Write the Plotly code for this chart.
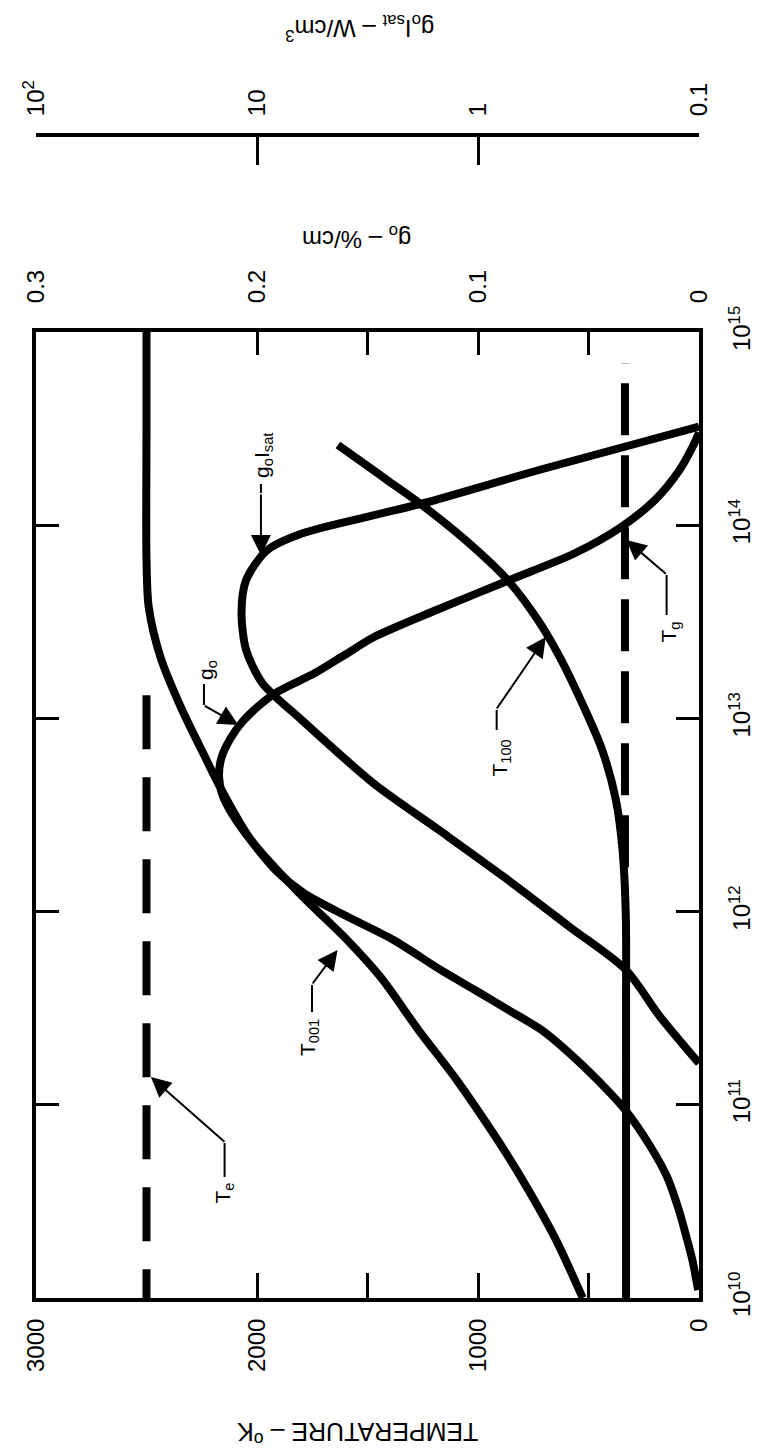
import plotly.graph_objects as go

# ---------------- data ----------------
# electron density values are stored as log10(n) (n in cm^-3)
te_logn = [13.12, 10.0]
te_T = [2500, 2500]

tg_logn = [12.23, 14.84]
tg_T = [335, 335]

t001_logn = [10.0, 10.316, 10.663, 10.854, 11.128, 11.387, 11.661, 11.853, 12.096,
             12.371, 12.629, 12.80, 13.059, 13.318, 13.577, 13.82, 14.5, 15.0]
t001_T = [526, 654, 826, 932, 1096, 1269, 1441, 1592, 1810,
          2027, 2160, 2235, 2345, 2437, 2490, 2500, 2500, 2500]

t100_logn = [10.0, 11.0, 11.542, 11.972, 12.319, 12.578, 12.836, 13.059, 13.302,
             13.509, 13.716, 13.923, 14.115, 14.234, 14.322, 14.415]
t100_T = [330, 330, 330, 331, 346, 376, 438, 521, 623,
          729, 866, 1057, 1266, 1412, 1519, 1634]

g0_logn = [10.041, 10.197, 10.316, 10.455, 10.626, 10.792, 10.973, 11.128, 11.268,
           11.387, 11.491, 11.594, 11.698, 11.853, 11.977, 12.096, 12.215, 12.371,
           12.50, 12.60, 12.70, 12.80, 12.90, 12.98, 13.06, 13.131, 13.235, 13.328,
           13.421, 13.561, 13.716, 13.856, 13.991, 14.13, 14.286, 14.415, 14.48]
g0_val = [0.0004, 0.0030, 0.0057, 0.0091, 0.0144, 0.0224, 0.0334, 0.0459, 0.0587,
          0.0712, 0.0863, 0.1014, 0.1169, 0.1382, 0.1596, 0.1788, 0.1916, 0.2030,
          0.2110, 0.2155, 0.2172, 0.2160, 0.2118, 0.2068, 0.1997, 0.1917, 0.1738, 0.1604,
          0.1470, 0.1188, 0.0857, 0.0560, 0.0352, 0.0200, 0.0088, 0.0025, 0.0]

gi_logn = [11.215, 11.456, 11.698, 11.92, 12.179, 12.422, 12.664, 12.992, 13.183,
           13.354, 13.545, 13.716, 13.87, 13.958, 14.053, 14.115, 14.291, 14.51]
gi_val = [0.1, 0.150, 0.214, 0.384, 0.762, 1.50, 2.97, 6.28, 9.46,
          11.2, 11.75, 11.2, 9.0, 6.22, 2.92, 1.75, 0.51, 0.1]

temp_ticks = [0, 500, 1000, 1500, 2000, 2500, 3000]
temp_labels = ["0", "", "1000", "", "2000", "", "3000"]
g0_ticks = [0, 0.05, 0.1, 0.15, 0.2, 0.25, 0.3]
g0_labels = ["0", "", "0.1", "", "0.2", "", "0.3"]
gi_ticks = [100, 10, 1, 0.1]
gi_labels = ["10<sup>2</sup>", "10", "1", "0.1"]
dens_exp = [10, 11, 12, 13, 14, 15]

# ---------------- figure ----------------
W, H = 767, 1451
ML, MR, MT, MB = 36, 56, 100, 153
PW, PH = W - ML - MR, H - MT - MB
BOX_TOP = 332


def px(x):
    return (x - ML) / PW


def py(y):
    return (H - MB - y) / PH


FONT = "Liberation Sans, Arial, Helvetica, sans-serif"
LW = 8

fig = go.Figure()


def dens(lst):
    return [10 ** v for v in lst]


fig.add_trace(go.Scatter(x=te_T, y=dens(te_logn), mode="lines", xaxis="x", yaxis="y",
                         line=dict(color="black", width=8, dash="54px,28px")))
fig.add_trace(go.Scatter(x=tg_T, y=dens(tg_logn), mode="lines", xaxis="x", yaxis="y",
                         line=dict(color="black", width=8, dash="52px,20px")))
fig.add_trace(go.Scatter(x=t001_T, y=dens(t001_logn), mode="lines", xaxis="x", yaxis="y",
                         line=dict(color="black", width=LW, shape="spline", smoothing=0.8)))
fig.add_trace(go.Scatter(x=t100_T, y=dens(t100_logn), mode="lines", xaxis="x", yaxis="y",
                         line=dict(color="black", width=LW, shape="spline", smoothing=0.8)))
fig.add_trace(go.Scatter(x=g0_val, y=dens(g0_logn), mode="lines", xaxis="x2", yaxis="y",
                         line=dict(color="black", width=LW, shape="spline", smoothing=0.8)))
fig.add_trace(go.Scatter(x=gi_val, y=dens(gi_logn), mode="lines", xaxis="x3", yaxis="y",
                         line=dict(color="black", width=LW, shape="spline", smoothing=0.8)))

tickfont = dict(family=FONT, size=24, color="black")
ydom_top = (H - MB - BOX_TOP) / PH

fig.update_layout(
    width=W, height=H,
    margin=dict(l=ML, r=MR, t=MT, b=MB, pad=0),
    paper_bgcolor="white", plot_bgcolor="white",
    showlegend=False,
    font=dict(family=FONT, color="black"),
    xaxis=dict(range=[3000, 0], tickvals=temp_ticks, ticktext=temp_labels,
               ticks="inside", ticklen=25, tickwidth=3, tickcolor="black",
               tickangle=-90, tickfont=tickfont, ticklabelstandoff=7,
               showline=True, linewidth=4, linecolor="black",
               showgrid=False, zeroline=False, anchor="y"),
    xaxis2=dict(range=[0.3, 0], tickvals=g0_ticks, ticktext=g0_labels,
                overlaying="x", side="top", anchor="y",
                ticks="inside", ticklen=23, tickwidth=3, tickcolor="black",
                tickangle=-90, tickfont=tickfont, ticklabelstandoff=20,
                showline=True, linewidth=4, linecolor="black",
                showgrid=False, zeroline=False),
    xaxis3=dict(type="log", range=[2, -1], tickvals=gi_ticks, ticktext=gi_labels,
                overlaying="x", side="top", anchor="free", position=(H - MB - 135) / PH,
                ticks="inside", ticklen=28, tickwidth=3, tickcolor="black",
                tickangle=-90, tickfont=tickfont, ticklabelstandoff=12,
                showline=True, linewidth=4, linecolor="black",
                showgrid=False, zeroline=False),
    yaxis=dict(type="log", range=[10, 15], domain=[0, ydom_top], side="right",
               tickvals=[10 ** e for e in dens_exp],
               ticktext=[f"10<sup>{e}</sup>" for e in dens_exp],
               ticks="inside", ticklen=23, tickwidth=3, tickcolor="black",
               tickangle=-90, tickfont=tickfont, ticklabelstandoff=18,
               showline=True, linewidth=4, linecolor="black", mirror="ticks",
               showgrid=False, zeroline=False, anchor="x"),
)

annotations = []
shapes = []


def text_ann(text, x, y, angle, size):
    return dict(text=text, x=px(x), y=py(y), xref="paper", yref="paper",
                xanchor="center", yanchor="middle", showarrow=False, textangle=angle,
                font=dict(family=FONT, size=size, color="black"))


# axis titles (upside down, as in the rotated original)
annotations.append(text_ann("TEMPERATURE – <sup>o</sup>K", 363, 1433, 180, 25))
annotations.append(text_ann("g<sub>o</sub> – %/cm", 363, 237, 180, 24))
annotations.append(text_ann("g<sub>o</sub>I<sub>sat</sub> – W/cm<sup>3</sup>", 366, 28, 180, 24))

# curve labels: (text, label centre, vertical leader (x, y0, y1), arrow tip, arrow tail)
labels = [
    ("T<sub>e</sub>", (227, 1193), (228, 1143, 1177), (153, 1077), (228, 1143)),
    ("T<sub>001</sub>", (314, 1038), (317, 985, 1012), (343, 950), (317, 985)),
    ("g<sub>o</sub>", (210, 670), (207, 684, 705), (242, 725), (207, 705)),
    ("g<sub>o</sub>I<sub>sat</sub>", (267, 455), (265, 484, 493), (265, 555), (265, 493)),
    ("T<sub>100</sub>", (509, 758), (505, 710, 730), (555, 637), (505, 710)),
    ("T<sub>g</sub>", (681, 632), (678, 575, 615), (637, 540), (678, 575)),
]
for text, (lx, ly), (vx, vy0, vy1), (tx, ty), (ax, ay) in labels:
    annotations.append(text_ann(text, lx, ly, -90, 21))
    shapes.append(dict(type="line", xref="paper", yref="paper",
                       x0=px(vx), x1=px(vx), y0=py(vy0), y1=py(vy1),
                       line=dict(color="black", width=2)))
    annotations.append(dict(text="", x=px(tx), y=py(ty), xref="paper", yref="paper",
                            showarrow=True, ax=ax - tx, ay=ay - ty,
                            arrowhead=2, arrowsize=2.0, arrowwidth=2, arrowcolor="black",
                            standoff=0, startstandoff=0))

fig.update_layout(annotations=annotations, shapes=shapes)

fig.write_html(
    "out.html",
    config={"displayModeBar": False},
    post_script="document.body.style.margin='0px';document.body.style.overflow='hidden';",
)
